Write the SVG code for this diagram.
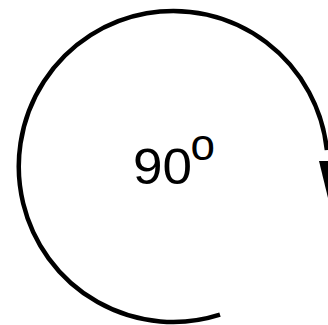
<svg xmlns="http://www.w3.org/2000/svg" width="328" height="325" viewBox="0 0 328 325">
<style>
.arc{fill:none;stroke:#000;stroke-width:4.5}
.lbl{font-family:"Liberation Sans",Arial,sans-serif;fill:#000}
</style>
<rect width="328" height="325" fill="#fff"/>
<g id="connectors">
<path class="arc" d="M220,314.7 A154.5,155.5 0 1 1 326.9,150"/>
<polygon points="319,161 337,161 328,198" fill="#000"/>
</g>
<g id="label">
<text class="lbl" x="133" y="183.5" font-size="50" textLength="59" lengthAdjust="spacingAndGlyphs">90</text>
<text class="lbl" x="190.5" y="159.5" font-size="44">o</text>
</g>
</svg>
